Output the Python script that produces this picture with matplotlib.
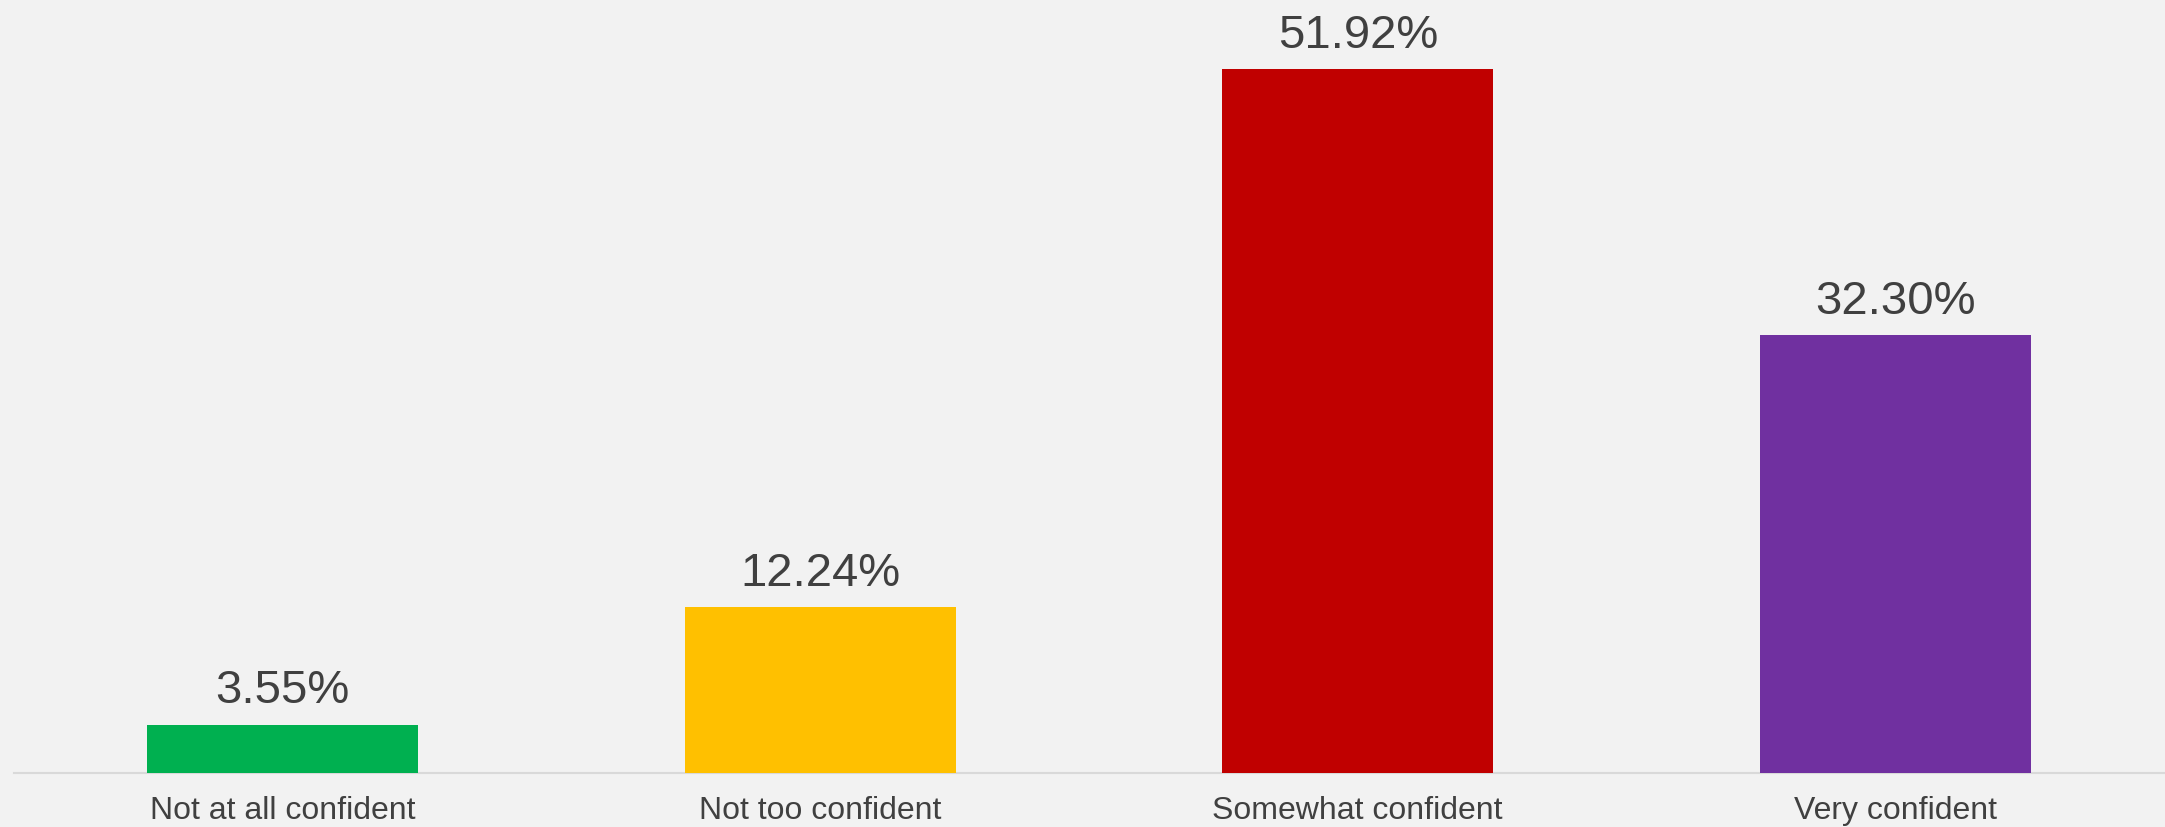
import matplotlib
matplotlib.use("Agg")
import matplotlib.pyplot as plt

categories = ["Not at all confident", "Not too confident", "Somewhat confident", "Very confident"]
values = [3.55, 12.24, 51.92, 32.30]
labels = ["3.55%", "12.24%", "51.92%", "32.30%"]
colors = ["#00B050", "#FFC000", "#C00000", "#7030A0"]

plt.rcParams["font.family"] = ["Liberation Sans", "DejaVu Sans"]

W, H = 2165, 827
fig = plt.figure(figsize=(W / 100, H / 100), dpi=100, facecolor="#F2F2F2")
ax = fig.add_axes([14 / W, (H - 772.7) / H, 2150 / W, 772.7 / H])
ax.set_facecolor("#F2F2F2")

x = range(len(categories))
bars = ax.bar(x, values, width=0.504, color=colors, zorder=3)

for b, lab in zip(bars, labels):
    ax.annotate(lab, (b.get_x() + b.get_width() / 2, b.get_height()),
                xytext=(0, 8), textcoords="offset points",
                ha="center", va="bottom", fontsize=34, color="#404040")

ax.set_xlim(-0.5, 3.5)
ax.set_ylim(0, 57.0)
ax.set_xticks(list(x))
ax.set_xticklabels(categories, fontsize=23, color="#404040")
ax.tick_params(axis="x", length=0, pad=17)
ax.set_yticks([])
for s in ["top", "right", "left"]:
    ax.spines[s].set_visible(False)
ax.spines["bottom"].set_color("#D9D9D9")
ax.spines["bottom"].set_linewidth(1.5)

fig.savefig("out.png", dpi=100, facecolor=fig.get_facecolor())
